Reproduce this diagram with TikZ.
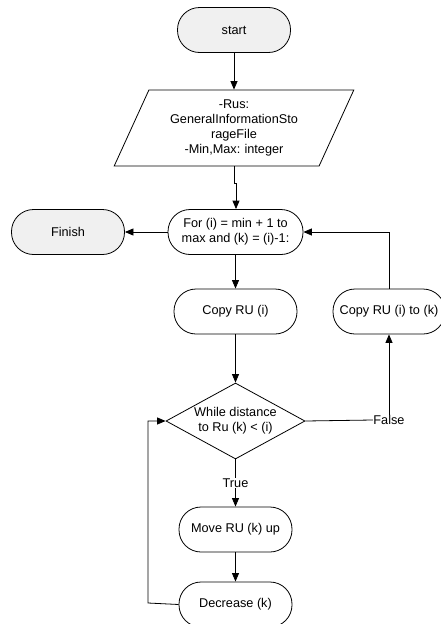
\documentclass[tikz,border=0pt]{standalone}
\usepackage{fontspec}
\setmainfont{Liberation Sans}
\usetikzlibrary{arrows.meta,shapes.geometric}
\definecolor{termfill}{HTML}{F0F0F0}
\frenchspacing
\begin{document}
\begin{tikzpicture}[x=1pt,y=-1pt,
  every node/.style={font=\fontsize{12.7}{15.2}\selectfont, text=black},
  line/.style={draw=black, line width=0.8pt},
  arr/.style={line, -{Triangle[width=7pt,length=8.5pt]}},
  term/.style={draw=black, line width=0.8pt, fill=termfill, rounded corners=22pt,
    minimum width=113pt, minimum height=45pt, align=center, inner sep=2pt},
  proc/.style={draw=black, line width=0.8pt, fill=white, rounded corners=22pt,
    minimum height=45pt, align=center, inner sep=2pt},
  data/.style={draw=black, line width=0.8pt, trapezium, trapezium left angle=63.4,
    trapezium right angle=116.6, minimum width=240pt, minimum height=76pt,
    trapezium stretches=true, align=center, inner sep=0pt},
  decision/.style={draw=black, line width=0.8pt, diamond, aspect=1.8,
    minimum width=139pt, minimum height=76pt, align=center, inner sep=0pt},
  lbl/.style={fill=white, inner sep=0.5pt}
]
\useasboundingbox (0,0) rectangle (440,624);

\node[term] (start) at (234,30) {start};
\node[data, text width=140pt] (input) at (234,128)
  {-Rus:\\GeneralInformationSto\\rageFile\\-Min,Max: integer};
\node[proc, minimum width=135pt] (loop) at (235.5,232)
  {For (i) = min + 1 to\\max and (k) = (i)-1:};
\node[term] (finish) at (68,232) {Finish};
\node[proc, minimum width=123pt] (copyi) at (235.5,311.5) {Copy RU (i)};
\node[proc, minimum width=112pt] (copyk) at (389,311.5) {Copy RU (i) to (k)};
\node[decision] (while) at (235.5,421) {While distance\\to Ru (k) {\textless} (i)};
\node[lbl] (false) at (389,420) {False};
\node[lbl] (true) at (235.5,483) {True};
\node[proc, minimum width=113pt] (move) at (235.5,529.5) {Move RU (k) up};
\node[proc, minimum width=113pt] (dec) at (235.5,604.5) {Decrease (k)};

\coordinate (jogA) at (234,183);
\coordinate (jogB) at (236,183);
\coordinate (backL) at (148,603);

\draw[arr] (start.south) -- (start.south |- input.north);
\draw[line] (input.south -| jogA) -- (jogA) -- (jogB);
\draw[arr] (jogB) -- (jogB |- loop.north);
\draw[arr] (loop.west) -- (finish.east);
\draw[arr] (loop.south -| copyi) -- (copyi.north);
\draw[arr] (copyi.south) -- (copyi.south |- while.north);
\draw[line] (while.east) -- (false.west);
\draw[arr] (false.north -| copyk) -- (copyk.south);
\draw[arr] (copyk.north) |- (loop.east);
\draw[line] (while.south) -- (true.north);
\draw[arr] (true.south) -- (move.north);
\draw[arr] (move.south) -- (dec.north);
\draw[arr] (dec.west) -- (backL) |- (while.west);
\end{tikzpicture}
\end{document}
